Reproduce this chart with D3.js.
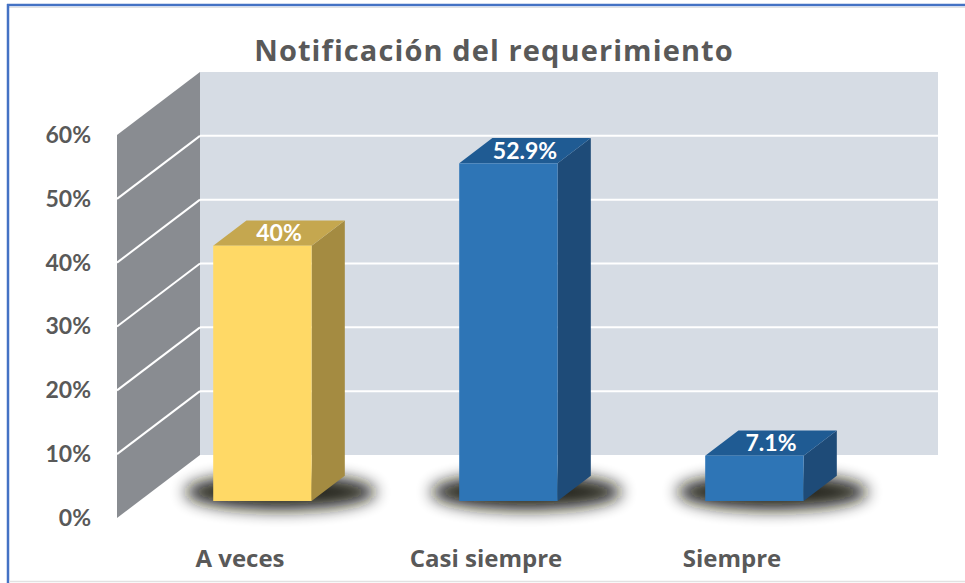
<!DOCTYPE html>
<html>
<head>
<meta charset="utf-8">
<script src="https://cdn.jsdelivr.net/npm/d3@7"></script>
<style>
  body { margin: 0; background: #fff; }
  text { font-family: Lato, "Open Sans", sans-serif; font-weight: bold; }
</style>
</head>
<body>
<svg id="chart" width="965" height="583"></svg>
<script>
// data
var categories = ["A veces", "Casi siempre", "Siempre"];
var values = [0.40, 0.529, 0.071];
var valueLabels = ["40%", "52.9%", "7.1%"];
var tickValues = [0, 0.1, 0.2, 0.3, 0.4, 0.5, 0.6];
var title = "Notificación del requerimiento";

var frontColors = ["#FFD966", "#2E75B6", "#2E75B6"];
var topColors = ["#C5A74F", "#1F5B93", "#1F5B93"];
var sideColors = ["#A48B41", "#1E4B78", "#1E4B78"];

var width = 965, height = 583;
var DX = 83, DY = -63;          // depth of the 3d box (floor)
var z0 = 0.27, z1 = 0.67;       // bar depth, as fraction of floor depth

var svg = d3.select("#chart");

// scales (front plane)
var x = d3.scaleBand()
  .domain(categories)
  .range([117, 855])
  .paddingInner(0.6)
  .paddingOuter(0.3);

var y = d3.scaleLinear()
  .domain([0, 0.6])
  .range([518, 135]);

// frame
svg.append("line").attr("x1", 7).attr("x2", width).attr("y1", 5).attr("y2", 5)
  .attr("stroke", "#4472C4").attr("stroke-width", 2.5);
svg.append("line").attr("x1", 7).attr("x2", width).attr("y1", 7.5).attr("y2", 7.5)
  .attr("stroke", "#e2e2e2").attr("stroke-width", 1);
svg.append("line").attr("x1", 8).attr("x2", 8).attr("y1", 4).attr("y2", height)
  .attr("stroke", "#4472C4").attr("stroke-width", 2.5);
svg.append("line").attr("x1", 9).attr("x2", width).attr("y1", 581.5).attr("y2", 581.5)
  .attr("stroke", "#e2e2e2").attr("stroke-width", 1.5);

// title
svg.append("text")
  .attr("x", 494)
  .attr("y", 61)
  .attr("text-anchor", "middle")
  .attr("fill", "#595959")
  .style("font-family", "'Open Sans', sans-serif")
  .style("font-size", "29px")
  .style("letter-spacing", "1.1px")
  .text(title);

var x0 = x.range()[0], x1 = x.range()[1];
var yTop = y(0.6), yBot = y(0);

// back wall
svg.append("rect")
  .attr("x", x0 + DX)
  .attr("y", yTop + DY)
  .attr("width", x1 - x0)
  .attr("height", yBot - yTop)
  .attr("fill", "#D6DCE4");

// side wall
svg.append("polygon")
  .attr("points", [[x0, yBot], [x0, yTop], [x0 + DX, yTop + DY], [x0 + DX, yBot + DY]].join(" "))
  .attr("fill", "#898C91");

// grid lines (back wall + side wall)
var grid = tickValues.filter(function(d) { return d > 0 && d < 0.6; });
svg.selectAll(".gridback")
  .data(grid)
  .enter()
  .append("line")
  .attr("class", "gridback")
  .attr("x1", x0 + DX)
  .attr("x2", x1 + DX)
  .attr("y1", function(d) { return y(d) + DY; })
  .attr("y2", function(d) { return y(d) + DY; })
  .attr("stroke", "#fff")
  .attr("stroke-width", 2);

svg.selectAll(".gridside")
  .data(grid)
  .enter()
  .append("line")
  .attr("class", "gridside")
  .attr("x1", x0)
  .attr("x2", x0 + DX)
  .attr("y1", function(d) { return y(d); })
  .attr("y2", function(d) { return y(d) + DY; })
  .attr("stroke", "#fff")
  .attr("stroke-width", 2);

// y axis
var yAxis = svg.append("g")
  .attr("transform", "translate(" + x0 + ",0)")
  .call(d3.axisLeft(y).tickValues(tickValues).tickSize(0).tickPadding(26).tickFormat(d3.format(".0%")));
yAxis.select(".domain").remove();
yAxis.selectAll("text")
  .attr("fill", "#595959")
  .style("font-size", "23px")
  .style("font-family", "Lato, sans-serif")
  .style("font-weight", "bold");

// x labels
svg.selectAll(".xlabel")
  .data(categories)
  .enter()
  .append("text")
  .attr("class", "xlabel")
  .attr("x", function(d) { return x(d) + x.bandwidth() / 2; })
  .attr("y", 567)
  .attr("text-anchor", "middle")
  .attr("fill", "#595959")
  .style("font-family", "'Open Sans', sans-serif")
  .style("font-size", "24px")
  .text(function(d) { return d; });

// shadow filter
var defs = svg.append("defs");
defs.append("filter")
  .attr("id", "blur")
  .attr("x", "-50%").attr("y", "-100%")
  .attr("width", "200%").attr("height", "300%")
  .append("feGaussianBlur")
  .attr("stdDeviation", 8);

var bw = x.bandwidth();
var fx = function(d) { return x(d) + z0 * DX; };     // front face left
var fy = function(v) { return y(v) + z0 * DY; };     // front face y
var bdx = (z1 - z0) * DX, bdy = (z1 - z0) * DY;

// shadows
svg.selectAll(".shadow")
  .data(categories)
  .enter()
  .append("ellipse")
  .attr("class", "shadow")
  .attr("cx", function(d) { return fx(d) + bw / 2 + 18; })
  .attr("cy", fy(0) - 9)
  .attr("rx", bw / 2 + 46)
  .attr("ry", 18)
  .attr("fill", "#12120c")
  .attr("opacity", 0.92)
  .attr("filter", "url(#blur)");

// bars
var bars = svg.selectAll(".bar")
  .data(values)
  .enter()
  .append("g")
  .attr("class", "bar");

bars.append("polygon")
  .attr("points", function(d, i) {
    var l = fx(categories[i]) + bw, t = fy(d), b = fy(0);
    return [[l, b], [l, t], [l + bdx, t + bdy], [l + bdx, b + bdy]].join(" ");
  })
  .attr("fill", function(d, i) { return sideColors[i]; });

bars.append("polygon")
  .attr("points", function(d, i) {
    var l = fx(categories[i]), t = fy(d);
    return [[l, t], [l + bw, t], [l + bw + bdx, t + bdy], [l + bdx, t + bdy]].join(" ");
  })
  .attr("fill", function(d, i) { return topColors[i]; });

bars.append("rect")
  .attr("x", function(d, i) { return fx(categories[i]); })
  .attr("y", function(d) { return fy(d); })
  .attr("width", bw)
  .attr("height", function(d) { return fy(0) - fy(d); })
  .attr("fill", function(d, i) { return frontColors[i]; });

// value labels on the top faces
bars.append("text")
  .attr("x", function(d, i) { return fx(categories[i]) + bw / 2 + bdx / 2; })
  .attr("y", function(d) { return fy(d) + bdy / 2; })
  .attr("dy", "0.36em")
  .attr("text-anchor", "middle")
  .attr("fill", "#fff")
  .style("font-size", "23px")
  .text(function(d, i) { return valueLabels[i]; });
</script>
</body>
</html>
